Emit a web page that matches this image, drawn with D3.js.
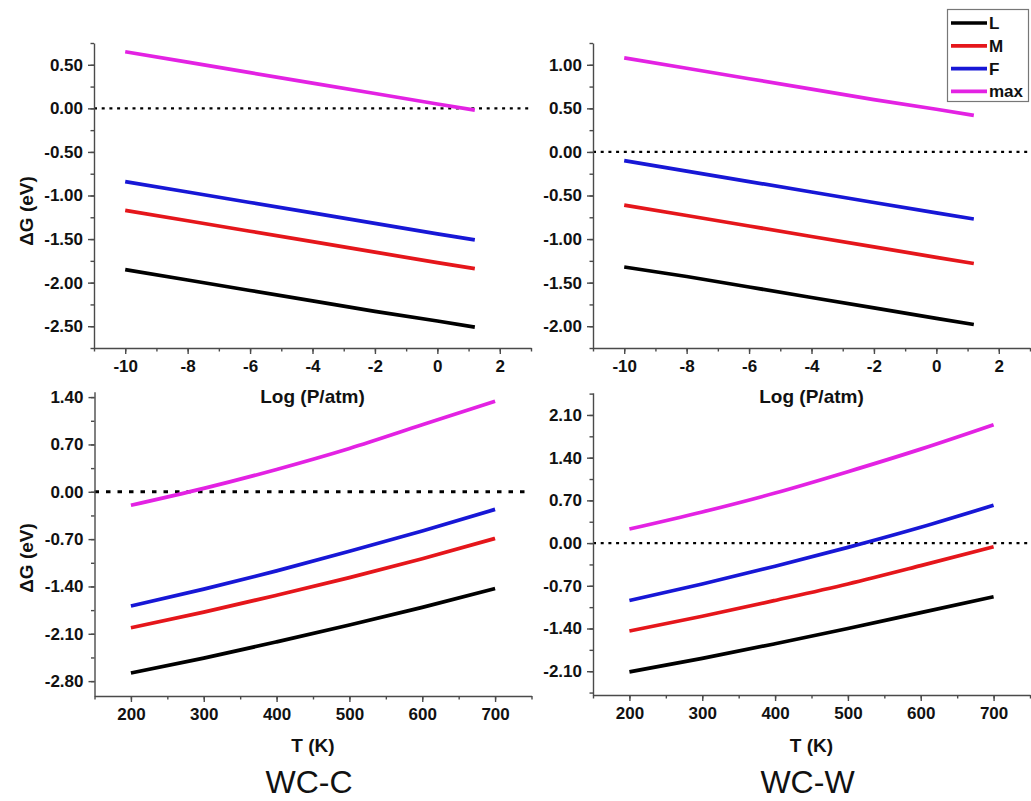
<!DOCTYPE html>
<html>
<head>
<meta charset="utf-8">
<script src="https://cdn.jsdelivr.net/npm/d3@7"></script>
<style>
  html, body { margin: 0; padding: 0; background: #fff; }
  svg { display: block; }
  text { font-family: "Liberation Sans", Arial, sans-serif; }
</style>
</head>
<body>
<svg id="chart" width="1031" height="801"></svg>
<script>
// ---- series names ----
const seriesNames = ["L", "M", "F", "max"];

// ---- x values ----
const logP = [-10, -8, -6, -4, -2, 0, 1.2];
const temps = [200, 300, 400, 500, 600, 700];

// ---- WC-C, ΔG vs log(P/atm) ----
const cP_L   = [-1.85, -1.97, -2.09, -2.21, -2.33, -2.44, -2.51];
const cP_M   = [-1.17, -1.29, -1.41, -1.53, -1.65, -1.77, -1.84];
const cP_F   = [-0.84, -0.96, -1.08, -1.20, -1.32, -1.44, -1.51];
const cP_max = [0.65, 0.53, 0.41, 0.29, 0.17, 0.05, -0.02];

// ---- WC-W, ΔG vs log(P/atm) ----
const wP_L   = [-1.32, -1.43, -1.55, -1.67, -1.79, -1.91, -1.98];
const wP_M   = [-0.61, -0.73, -0.85, -0.97, -1.09, -1.21, -1.28];
const wP_F   = [-0.10, -0.22, -0.34, -0.46, -0.58, -0.70, -0.77];
const wP_max = [1.08, 0.96, 0.84, 0.72, 0.60, 0.49, 0.42];

// ---- WC-C, ΔG vs T ----
const cT_L   = [-2.68, -2.46, -2.22, -1.97, -1.71, -1.43];
const cT_M   = [-2.01, -1.78, -1.53, -1.27, -0.99, -0.69];
const cT_F   = [-1.69, -1.44, -1.17, -0.88, -0.58, -0.26];
const cT_max = [-0.20, 0.05, 0.33, 0.64, 0.99, 1.34];

// ---- WC-W, ΔG vs T ----
const wT_L   = [-2.11, -1.89, -1.65, -1.40, -1.14, -0.88];
const wT_M   = [-1.44, -1.20, -0.94, -0.67, -0.37, -0.06];
const wT_F   = [-0.94, -0.67, -0.38, -0.07, 0.26, 0.62];
const wT_max = [0.23, 0.51, 0.82, 1.17, 1.54, 1.94];

// ---- tick labels ----
const pressureTicks = [-10, -8, -6, -4, -2, 0, 2];
const tempTicks = [200, 300, 400, 500, 600, 700];
const yTicksCP = [0.5, 0, -0.5, -1, -1.5, -2, -2.5];
const yTicksWP = [1, 0.5, 0, -0.5, -1, -1.5, -2];
const yTicksCT = [1.4, 0.7, 0, -0.7, -1.4, -2.1, -2.8];
const yTicksWT = [2.1, 1.4, 0.7, 0, -0.7, -1.4, -2.1];

const seriesColors = ["#000000", "#e5161b", "#1717d6", "#e322e3"];

const svg = d3.select("#chart");
svg.append("rect").attr("width", 1031).attr("height", 801).attr("fill", "#fff");

const panels = [
  { xs: logP, ys: [cP_L, cP_M, cP_F, cP_max], xDom: [-11, 3], yDom: [-2.75, 0.75],
    xR: [94, 531], yR: [348, 43], xT: pressureTicks, yT: yTicksCP, xMinorStep: 1, yMinorStep: 0.25,
    xTitle: "Log (P/atm)", xTitleY: 403, yTitleY: 211, showYTitle: true, dash: "3,4.7", dashW: 2.2, curve: d3.curveLinear },
  { xs: logP, ys: [wP_L, wP_M, wP_F, wP_max], xDom: [-11, 3], yDom: [-2.25, 1.25],
    xR: [593, 1030], yR: [348, 43], xT: pressureTicks, yT: yTicksWP, xMinorStep: 1, yMinorStep: 0.25,
    xTitle: "Log (P/atm)", xTitleY: 403, showYTitle: false, dash: "3,4.7", dashW: 2.2, curve: d3.curveLinear, legend: true },
  { xs: temps, ys: [cT_L, cT_M, cT_F, cT_max], xDom: [150, 750], yDom: [-3.02, 1.48],
    xR: [94.5, 531.5], yR: [696, 391.7], xT: tempTicks, yT: yTicksCT, xMinorStep: 50, yMinorStep: 0.35,
    xTitle: "T (K)", xTitleY: 752, yTitleY: 558, showYTitle: true, dash: "4.5,7", dashW: 3, curve: d3.curveMonotoneX,
    label: "WC-C" },
  { xs: temps, ys: [wT_L, wT_M, wT_F, wT_max], xDom: [150, 750], yDom: [-2.49, 2.465],
    xR: [593, 1030], yR: [695, 392.7], xT: tempTicks, yT: yTicksWT, xMinorStep: 50, yMinorStep: 0.35,
    xTitle: "T (K)", xTitleY: 752, showYTitle: false, dash: "3,4.7", dashW: 2.2, curve: d3.curveMonotoneX,
    label: "WC-W" }
];

function minorValues(domain, step) {
  const out = [];
  const start = Math.ceil((domain[0] - 1e-6) / step);
  const end = Math.floor((domain[1] + 1e-6) / step);
  for (let i = start; i <= end; i++) out.push(+(i * step).toFixed(4));
  return out;
}

// plain hyphen-minus in tick labels
const fmtInt = d => d3.format("d")(d).replace("\u2212", "-");
const fmt2 = d => d3.format(".2f")(d).replace("\u2212", "-");

const axisColor = "#4a4a4a";

panels.forEach(p => {
  const x = d3.scaleLinear().domain(p.xDom).range(p.xR);
  const y = d3.scaleLinear().domain(p.yDom).range(p.yR);
  const g = svg.append("g");

  // zero reference line
  g.append("line")
    .attr("x1", p.xR[0]).attr("x2", p.xR[1] - 2)
    .attr("y1", y(0)).attr("y2", y(0))
    .attr("stroke", "#000").attr("stroke-width", p.dashW)
    .attr("stroke-dasharray", p.dash);

  // curves
  const line = d3.line().x(d => x(d[0])).y(d => y(d[1])).curve(p.curve);
  p.ys.forEach((vals, i) => {
    g.append("path")
      .datum(p.xs.map((xv, j) => [xv, vals[j]]))
      .attr("d", line)
      .attr("fill", "none")
      .attr("stroke", seriesColors[i])
      .attr("stroke-width", 3.7);
  });

  // minor ticks
  g.append("g").attr("transform", `translate(0,${p.yR[0]})`)
    .call(d3.axisBottom(x).tickValues(minorValues(p.xDom, p.xMinorStep)).tickSize(3.5).tickSizeOuter(0).tickFormat(""))
    .call(a => a.select(".domain").remove());
  g.append("g").attr("transform", `translate(${p.xR[0]},0)`)
    .call(d3.axisLeft(y).tickValues(minorValues(p.yDom, p.yMinorStep)).tickSize(3.5).tickSizeOuter(0).tickFormat(""))
    .call(a => a.select(".domain").remove());

  // major axes
  const xa = g.append("g").attr("transform", `translate(0,${p.yR[0]})`)
    .call(d3.axisBottom(x).tickValues(p.xT).tickSize(6).tickPadding(6).tickSizeOuter(0).tickFormat(fmtInt));
  const ya = g.append("g").attr("transform", `translate(${p.xR[0]},0)`)
    .call(d3.axisLeft(y).tickValues(p.yT).tickSize(6).tickPadding(5).tickSizeOuter(0).tickFormat(fmt2));
  [xa, ya].forEach(a => {
    a.selectAll(".domain, line").attr("stroke", axisColor).attr("stroke-width", 1.4);
    a.selectAll("text").attr("font-size", 17).attr("font-weight", "bold").attr("fill", "#111")
      .attr("font-family", "Liberation Sans, Arial, sans-serif");
  });
  g.selectAll("g.tick line").attr("stroke", axisColor).attr("stroke-width", 1.4);

  // axis titles
  g.append("text")
    .attr("x", (p.xR[0] + p.xR[1]) / 2).attr("y", p.xTitleY)
    .attr("text-anchor", "middle").attr("font-size", 19).attr("font-weight", "bold").attr("fill", "#111")
    .text(p.xTitle);
  if (p.showYTitle) {
    g.append("text")
      .attr("transform", `translate(33,${p.yTitleY}) rotate(-90)`)
      .attr("text-anchor", "middle").attr("font-size", 19).attr("font-weight", "bold").attr("fill", "#111")
      .text("ΔG (eV)");
  }
  if (p.label) {
    g.append("text")
      .attr("x", (p.xR[0] + p.xR[1]) / 2 - 4).attr("y", 793)
      .attr("text-anchor", "middle").attr("font-size", 32).attr("fill", "#111")
      .text(p.label);
  }

  // legend
  if (p.legend) {
    const lg = svg.append("g");
    lg.append("rect").attr("x", 947.5).attr("y", 9.5).attr("width", 81).attr("height", 92)
      .attr("fill", "#fff").attr("stroke", "#777").attr("stroke-width", 1.2);
    seriesNames.forEach((name, i) => {
      const yy = 23 + i * 22.8;
      lg.append("line").attr("x1", 951).attr("x2", 987).attr("y1", yy).attr("y2", yy)
        .attr("stroke", seriesColors[i]).attr("stroke-width", 3.7);
      lg.append("text").attr("x", 989).attr("y", yy + 6)
        .attr("font-size", 17).attr("font-weight", "bold").attr("fill", "#111").text(name);
    });
  }
});
</script>
</body>
</html>
